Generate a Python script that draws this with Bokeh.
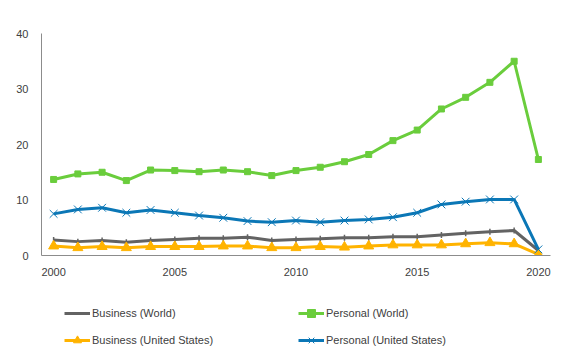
from bokeh.plotting import figure
from bokeh.models import Legend, LegendItem, Range1d, FixedTicker
from bokeh.layouts import column
from bokeh.embed import file_html
from bokeh.resources import INLINE
import math

years = list(range(2000, 2021))
business_world = [2.8, 2.5, 2.7, 2.4, 2.7, 2.9, 3.1, 3.1, 3.3, 2.7, 2.9, 3.0, 3.2, 3.2, 3.4, 3.4, 3.7, 4.0, 4.3, 4.5, 0.9]
personal_world = [13.7, 14.7, 15.0, 13.5, 15.4, 15.3, 15.1, 15.4, 15.1, 14.4, 15.3, 15.9, 16.9, 18.2, 20.7, 22.6, 26.4, 28.5, 31.2, 35.0, 17.3]
business_us = [1.7, 1.4, 1.6, 1.4, 1.6, 1.6, 1.6, 1.7, 1.7, 1.4, 1.4, 1.6, 1.5, 1.7, 1.9, 1.9, 1.9, 2.1, 2.3, 2.1, 0.2]
personal_us = [7.5, 8.3, 8.6, 7.7, 8.2, 7.7, 7.2, 6.8, 6.2, 6.0, 6.3, 6.0, 6.3, 6.5, 6.9, 7.7, 9.2, 9.7, 10.1, 10.1, 1.1]
series_names = ["Business (World)", "Personal (World)", "Business (United States)", "Personal (United States)"]
x_ticks = [2000, 2005, 2010, 2015, 2020]
y_ticks = [0, 10, 20, 30, 40]

GRAY = "#636363"
GREEN = "#6acd3c"
ORANGE = "#ffb300"
BLUE = "#0b77b6"
FONT = "Liberation Sans"
TXT = "#404040"

styles = [
    dict(color=GRAY, marker="dash", angle=math.pi / 2, size=6, lw=1.5),
    dict(color=GREEN, marker="square", angle=0, size=6, lw=1),
    dict(color=ORANGE, marker="triangle", angle=0, size=10, lw=1),
    dict(color=BLUE, marker="x", angle=0, size=11, lw=1),
]
data = [business_world, personal_world, business_us, personal_us]

p = figure(width=576, height=280, output_backend="svg", toolbar_location=None,
           x_range=Range1d(1999.5, 2020.5), y_range=Range1d(0, 40),
           min_border_left=41, min_border_right=26, min_border_top=33, min_border_bottom=25)
p.outline_line_color = None
p.grid.visible = False

for ax, ticks in ((p.xaxis[0], x_ticks), (p.yaxis[0], y_ticks)):
    ax.ticker = FixedTicker(ticks=ticks)
    ax.axis_line_color = "#8c8c8c"
    ax.axis_line_width = 1
    ax.major_tick_line_color = None
    ax.minor_tick_line_color = None
    ax.major_tick_out = 0
    ax.major_tick_in = 0
    ax.major_label_text_font = FONT
    ax.major_label_text_font_size = "11px"
    ax.major_label_text_color = TXT
p.xaxis.major_label_standoff = 12
p.yaxis.major_label_standoff = 13

def draw(fig, xs, ys, st):
    rl = fig.line(xs, ys, line_color=st["color"], line_width=3)
    rm = fig.scatter(xs, ys, marker=st["marker"], angle=st["angle"], size=st["size"],
                     fill_color=st["color"], line_color=st["color"], line_width=st["lw"])
    return [rl, rm]

for ys, st in zip(data, styles):
    draw(p, years, ys, st)

# legend panel below the chart (renderers hold no visible data; they only supply legend glyphs)
lp = figure(width=576, height=81, output_backend="svg", toolbar_location=None,
            x_range=Range1d(0, 1), y_range=Range1d(0, 1),
            x_axis_location=None, y_axis_location=None, min_border=0)
lp.outline_line_color = None
lp.grid.visible = False
nan = float("nan")
items = []
for name, st in zip(series_names, styles):
    items.append(LegendItem(label=name, renderers=draw(lp, [nan], [nan], st)))

legend = Legend(items=items, location=(23, 11), orientation="horizontal", ncols=2,
                glyph_width=26, glyph_height=20, label_height=20, label_standoff=2,
                label_width=199, spacing=7, padding=0, margin=0,
                border_line_color=None, background_fill_alpha=0,
                label_text_font=FONT, label_text_font_size="11px", label_text_color=TXT)
lp.add_layout(legend)

layout = column(p, lp, spacing=0)
open("out.html", "w").write(file_html(layout, INLINE))
